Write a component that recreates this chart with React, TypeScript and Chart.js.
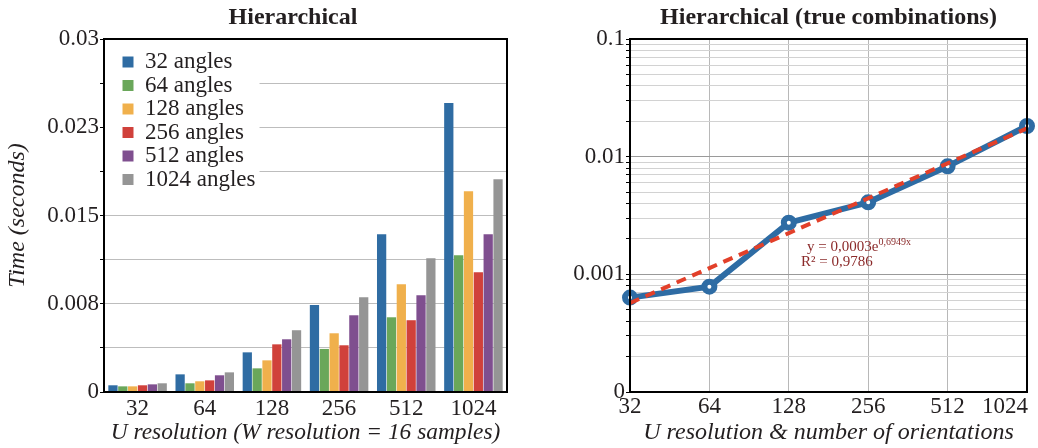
import React, { useEffect, useRef } from 'react';
import { Chart, registerables } from 'chart.js';

Chart.register(...registerables);

// ---------- data ----------
const categories = ['32', '64', '128', '256', '512', '1024'];
const seriesNames = ['32 angles', '64 angles', '128 angles', '256 angles', '512 angles', '1024 angles'];
const angles32 = [0.00057, 0.0015, 0.00337, 0.0074, 0.01341, 0.02456];
const angles64 = [0.00048, 0.00074, 0.00201, 0.00366, 0.00635, 0.01163];
const angles128 = [0.00048, 0.00091, 0.00269, 0.00499, 0.00916, 0.01707];
const angles256 = [0.00057, 0.00099, 0.00405, 0.00397, 0.0061, 0.01018];
const angles512 = [0.00065, 0.00142, 0.00448, 0.00652, 0.00822, 0.01341];
const angles1024 = [0.00074, 0.00167, 0.00525, 0.00805, 0.01137, 0.01809];
const seriesColors = ['#2f6ca3', '#6aa75a', '#f0b04c', '#d0413b', '#7f4f8f', '#959595'];
const leftYTickLabels = ['0', '0.008', '0.015', '0.023', '0.03'];
const leftYMax = 0.03;
const leftYSteps = 8;

const combinedTimes = [0.000634, 0.000785, 0.00275, 0.00409, 0.00828, 0.01823];
const trendValues = [0.00057, 0.00113, 0.00224, 0.00443, 0.00878, 0.0174];
const rightYDecades = [0.0001, 0.001, 0.01, 0.1];
const rightYTickLabels = ['0', '0.001', '0.01', '0.1'];
const trendEquation = 'y = 0,0003e';
const trendExponent = '0,6949x';
const trendR2 = 'R² = 0,9786';

const FONT = "'Liberation Serif', 'Times New Roman', serif";
const TEXT = '#231f20';
const LEGEND_FONT = 23;
const LEGEND_PAD = 0.5;

const framePlugin = {
  id: 'frame',
  afterDraw(chart: any) {
    const { ctx, chartArea: a } = chart;
    ctx.save();
    ctx.strokeStyle = '#000';
    ctx.lineWidth = 2;
    ctx.strokeRect(a.left, a.top, a.right - a.left, a.bottom - a.top);
    ctx.restore();
  },
};

const legendShiftPlugin = {
  id: 'legendShift',
  afterLayout(chart: any) {
    const legend = chart.legend;
    if (!legend) return;
    const a = chart.chartArea;
    legend.left = a.left + 18;
    legend.right = a.right;
    legend.top = a.top + 11;
    legend.bottom = a.bottom;
  },
};

const legendBackdropPlugin = {
  id: 'legendBackdrop',
  beforeDatasetsDraw(chart: any) {
    const legend = chart.legend;
    if (!legend || !legend.legendHitBoxes) return;
    const boxes = legend.legendHitBoxes;
    let maxW = 0;
    boxes.forEach((b: any) => {
      maxW = Math.max(maxW, b.width);
    });
    const right = legend.left + LEGEND_PAD + maxW + 4;
    const bottom = legend.top + LEGEND_PAD + boxes.length * (LEGEND_FONT + LEGEND_PAD) + 6;
    const a = chart.chartArea;
    const { ctx } = chart;
    ctx.save();
    ctx.fillStyle = '#ffffff';
    ctx.fillRect(a.left + 1, a.top + 1, right - a.left - 1, bottom - a.top - 1);
    ctx.restore();
    legend.draw();
  },
};

const lastLabelPlugin = {
  id: 'lastLabelInner',
  beforeDraw(chart: any) {
    const scale = chart.scales.x;
    const items = scale.getLabelItems();
    const last = items[items.length - 1];
    if (last) {
      last.options.textAlign = 'right';
      last.options.translation[0] = chart.chartArea.right + 1;
    }
  },
};

const annotationPlugin = {
  id: 'trendAnnotation',
  afterDatasetsDraw(chart: any) {
    const { ctx } = chart;
    const x = chart.scales.x.getPixelForValue(2.23);
    const y1 = chart.scales.y.getPixelForValue(0.00158);
    const y2 = chart.scales.y.getPixelForValue(0.00118);
    ctx.save();
    ctx.fillStyle = '#8b2a2a';
    ctx.textBaseline = 'alphabetic';
    ctx.textAlign = 'left';
    ctx.font = `15px ${FONT}`;
    ctx.fillText(trendEquation, x, y1);
    const w = ctx.measureText(trendEquation).width;
    ctx.font = `10px ${FONT}`;
    ctx.fillText(trendExponent, x + w, y1 - 6);
    ctx.font = `15px ${FONT}`;
    ctx.fillText(trendR2, x - 6, y2);
    ctx.restore();
  },
};

function BarChart() {
  const ref = useRef<HTMLCanvasElement>(null);
  useEffect(() => {
    const series = [angles32, angles64, angles128, angles256, angles512, angles1024];
    const chart = new Chart(ref.current as HTMLCanvasElement, {
      type: 'bar',
      data: {
        labels: categories,
        datasets: series.map((d, i) => ({
          label: seriesNames[i],
          data: d,
          backgroundColor: seriesColors[i],
          borderWidth: 0,
          barPercentage: 0.94,
          categoryPercentage: 0.88,
        })),
      },
      options: {
        responsive: false,
        animation: false,
        layout: { padding: 0 },
        plugins: {
          title: {
            display: true,
            text: 'Hierarchical',
            font: { family: FONT, size: 24, weight: 'bold' },
            color: TEXT,
            padding: { top: 3, bottom: 7.2 },
          },
          legend: {
            position: 'chartArea' as any,
            align: 'start',
            labels: {
              boxWidth: 11,
              boxHeight: 11,
              padding: LEGEND_PAD,
              font: { family: FONT, size: LEGEND_FONT },
              color: TEXT,
            },
          },
          tooltip: { enabled: false },
        },
        scales: {
          x: {
            type: 'category',
            offset: true,
            grid: { display: false, drawTicks: false },
            border: { display: true, color: '#000', width: 2 },
            ticks: { font: { family: FONT, size: 23 }, color: TEXT, padding: 3 },
            title: {
              display: true,
              text: 'U resolution (W resolution = 16 samples)',
              font: { family: FONT, size: 23.4, style: 'italic' },
              color: TEXT,
              padding: { top: 0, bottom: 1.5 },
            },
            afterFit: (s: any) => {
              s.height = 56;
            },
          },
          y: {
            min: 0,
            max: leftYMax,
            afterBuildTicks: (s: any) => {
              s.ticks = Array.from({ length: leftYSteps + 1 }, (_, i) => ({ value: (leftYMax * i) / leftYSteps }));
            },
            grid: {
              color: '#bdbdbd',
              lineWidth: 1,
              tickColor: '#000',
              tickLength: 4,
              drawTicks: true,
            },
            border: { display: true, color: '#000', width: 2 },
            ticks: {
              autoSkip: false,
              font: { family: FONT, size: 23 },
              color: TEXT,
              padding: 1,
              callback: (_v: any, i: number) => (i % 2 === 0 ? leftYTickLabels[i / 2] : ''),
            },
            title: {
              display: true,
              text: 'Time (seconds)',
              font: { family: FONT, size: 24, style: 'italic' },
              color: TEXT,
              padding: { top: 3, bottom: 0 },
            },
            afterFit: (s: any) => {
              s.width = 104;
            },
          },
          spacer: {
            type: 'linear',
            position: 'right',
            display: true,
            grid: { display: false, drawTicks: false },
            border: { display: false },
            ticks: { display: false },
            afterFit: (s: any) => {
              s.width = 79;
            },
          },
        },
      },
      plugins: [legendShiftPlugin, legendBackdropPlugin, framePlugin],
    } as any);
    return () => chart.destroy();
  }, []);
  return <canvas ref={ref} width={586} height={448} />;
}

function LineChart() {
  const ref = useRef<HTMLCanvasElement>(null);
  useEffect(() => {
    const chart = new Chart(ref.current as HTMLCanvasElement, {
      type: 'line',
      data: {
        labels: categories,
        datasets: [
          {
            label: 'Trend',
            data: trendValues,
            borderColor: '#e2402a',
            borderWidth: 4,
            borderDash: [10, 7],
            pointRadius: 0,
            fill: false,
            clip: false as any,
          },
          {
            label: 'Hierarchical',
            data: combinedTimes,
            borderColor: '#2e6ca4',
            borderWidth: 6,
            pointRadius: 5,
            pointBorderWidth: 6,
            pointBackgroundColor: '#ffffff',
            pointBorderColor: '#2e6ca4',
            fill: false,
            clip: false as any,
          },
        ],
      },
      options: {
        responsive: false,
        animation: false,
        layout: { padding: { left: 0, right: 11, top: 0, bottom: 0 } },
        plugins: {
          title: {
            display: true,
            fullSize: false,
            text: 'Hierarchical (true combinations)',
            font: { family: FONT, size: 24, weight: 'bold' },
            color: TEXT,
            padding: { top: 3, bottom: 7.2 },
          },
          legend: { display: false },
          tooltip: { enabled: false },
        },
        scales: {
          x: {
            type: 'category',
            offset: false,
            grid: { color: '#b8b8b8', lineWidth: 1, drawTicks: false },
            border: { display: true, color: '#000', width: 2 },
            ticks: { font: { family: FONT, size: 23 }, color: TEXT, padding: 1, autoSkip: false },
            title: {
              display: true,
              text: 'U resolution & number of orientations',
              font: { family: FONT, size: 24, style: 'italic' },
              color: TEXT,
              padding: { top: 0, bottom: 1 },
            },
            afterFit: (s: any) => {
              s.height = 56;
              s.paddingLeft = 0;
              s.paddingRight = 0;
            },
          },
          y: {
            type: 'logarithmic',
            min: rightYDecades[0],
            max: rightYDecades[rightYDecades.length - 1],
            afterBuildTicks: (s: any) => {
              const ticks: any[] = [];
              for (let d = 0; d < rightYDecades.length - 1; d++) {
                for (let m = 1; m < 10; m++) ticks.push({ value: rightYDecades[d] * m });
              }
              ticks.push({ value: rightYDecades[rightYDecades.length - 1] });
              s.ticks = ticks;
            },
            grid: {
              color: (c: any) => (c.index % 9 === 0 ? '#9a9a9a' : '#d2d2d2'),
              lineWidth: 1,
              tickColor: '#000',
              tickLength: 4,
              drawTicks: true,
            },
            border: { display: true, color: '#000', width: 2 },
            ticks: {
              autoSkip: false,
              font: { family: FONT, size: 23 },
              color: TEXT,
              padding: 1,
              callback: (_v: any, i: number) => (i % 9 === 0 ? rightYTickLabels[i / 9] : ''),
            },
            afterFit: (s: any) => {
              s.width = 90;
            },
          },
        },
      },
      plugins: [lastLabelPlugin, annotationPlugin, framePlugin],
    } as any);
    return () => chart.destroy();
  }, []);
  return <canvas ref={ref} width={498} height={448} />;
}

export default function App() {
  return (
    <div style={{ position: 'fixed', left: 0, top: 0, width: 1038, height: 448, background: '#fff', overflow: 'hidden' }}>
      <div style={{ position: 'absolute', left: 0, top: 0, width: 586, height: 448 }}>
        <BarChart />
      </div>
      <div style={{ position: 'absolute', left: 540, top: 0, width: 498, height: 448 }}>
        <LineChart />
      </div>
    </div>
  );
}
